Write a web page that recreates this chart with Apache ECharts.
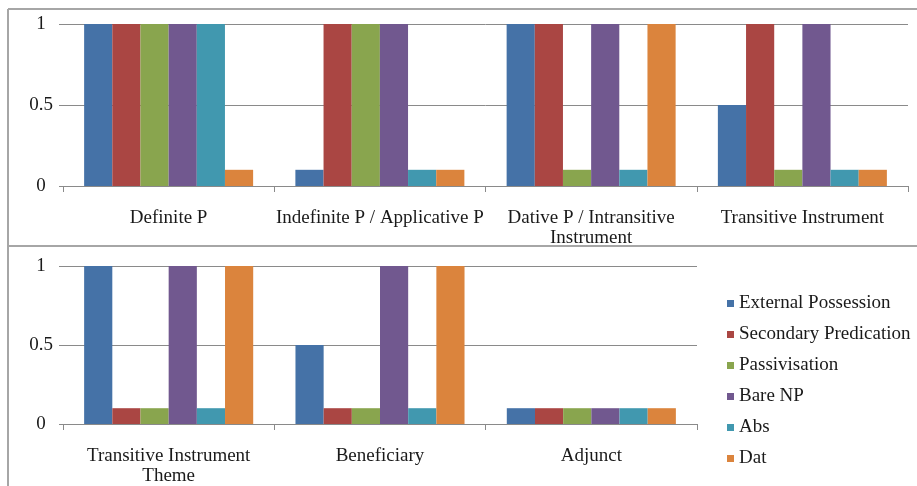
<!DOCTYPE html>
<html><head><meta charset="utf-8">
<script src="https://cdn.jsdelivr.net/npm/echarts@6/dist/echarts.min.js"></script>
<style>html,body{margin:0;padding:0;background:#fff}#c{width:917px;height:486px}</style>
</head><body><div id="c"></div>
<script>
const seriesNames = ["External Possession","Secondary Predication","Passivisation","Bare NP","Abs","Dat"];
const colors = ["#4572A7","#AA4643","#89A54E","#71588F","#4198AF","#DB843D"];
const topCategories = ["Definite P","Indefinite P / Applicative P","Dative P / Intransitive\nInstrument","Transitive Instrument"];
const bottomCategories = ["Transitive Instrument\nTheme","Beneficiary","Adjunct"];
const topExternalPossession = [1, 0.1, 1, 0.5];
const topSecondaryPredication = [1, 1, 1, 1];
const topPassivisation = [1, 1, 0.1, 0.1];
const topBareNP = [1, 1, 1, 1];
const topAbs = [1, 0.1, 0.1, 0.1];
const topDat = [0.1, 0.1, 1, 0.1];
const bottomExternalPossession = [1, 0.5, 0.1];
const bottomSecondaryPredication = [0.1, 0.1, 0.1];
const bottomPassivisation = [0.1, 0.1, 0.1];
const bottomBareNP = [1, 1, 0.1];
const bottomAbs = [0.1, 0.1, 0.1];
const bottomDat = [1, 1, 0.1];
const yTicks = {min: 0, max: 1, interval: 0.5};

const topData = [topExternalPossession, topSecondaryPredication, topPassivisation, topBareNP, topAbs, topDat];
const bottomData = [bottomExternalPossession, bottomSecondaryPredication, bottomPassivisation, bottomBareNP, bottomAbs, bottomDat];

const FONT = "'Liberation Serif', 'Times New Roman', serif";
const txt = {color: "#1a1a1a", fontFamily: FONT, fontSize: 19};

function xAxis(idx, cats) {
  return {
    type: "category", gridIndex: idx, data: cats,
    axisLine: {lineStyle: {color: "#8a8a8a", width: 1}},
    axisTick: {show: true, length: 6, lineStyle: {color: "#8a8a8a"}},
    axisLabel: Object.assign({interval: 0, margin: 22, lineHeight: 20}, txt),
    splitLine: {show: false}
  };
}
function yAxis(idx) {
  return {
    type: "value", gridIndex: idx, min: yTicks.min, max: yTicks.max, interval: yTicks.interval,
    axisLine: {show: false},
    axisTick: {show: true, length: 4, lineStyle: {color: "#8a8a8a"}},
    axisLabel: Object.assign({margin: 22, align: "center"}, txt),
    splitLine: {lineStyle: {color: "#8a8a8a", width: 1}}
  };
}
const series = [];
seriesNames.forEach((n, i) => {
  series.push({name: n, type: "bar", xAxisIndex: 0, yAxisIndex: 0, data: topData[i], barGap: "0%", barCategoryGap: "20%", itemStyle: {color: colors[i]}});
});
seriesNames.forEach((n, i) => {
  series.push({name: n, type: "bar", xAxisIndex: 1, yAxisIndex: 1, data: bottomData[i], barGap: "0%", barCategoryGap: "20%", itemStyle: {color: colors[i]}});
});

const chart = echarts.init(document.getElementById("c"), null, {renderer: "canvas"});
chart.setOption({
  animation: false,
  backgroundColor: "#fff",
  color: colors,
  grid: [
    {left: 63, top: 24, width: 845, height: 162},
    {left: 63, top: 266, width: 634, height: 163}
  ],
  xAxis: [xAxis(0, topCategories), xAxis(1, bottomCategories)],
  yAxis: [yAxis(0), yAxis(1)],
  legend: {
    orient: "vertical", left: 722, top: 289, data: seriesNames,
    icon: "rect", itemWidth: 7, itemHeight: 7, itemGap: 12,
    textStyle: Object.assign({lineHeight: 19}, txt)
  },
  graphic: [
    {type: "line", shape: {x1: 8, y1: 9, x2: 917, y2: 9}, style: {stroke: "#a6a6a6", lineWidth: 2}},
    {type: "line", shape: {x1: 8, y1: 9, x2: 8, y2: 486}, style: {stroke: "#a6a6a6", lineWidth: 2}},
    {type: "line", shape: {x1: 8, y1: 246, x2: 917, y2: 246}, style: {stroke: "#a6a6a6", lineWidth: 2}}
  ],
  series: series
});
</script></body></html>
